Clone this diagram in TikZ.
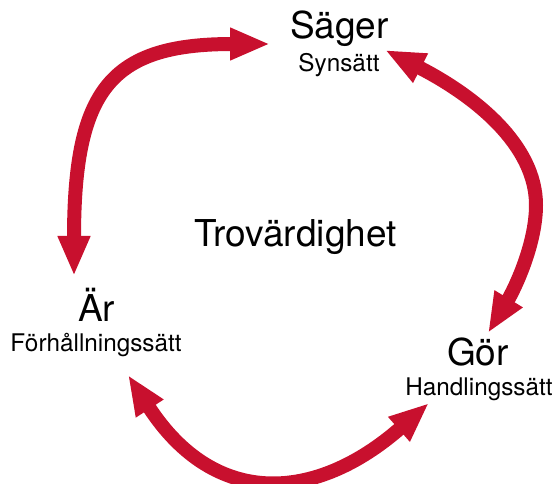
\documentclass[tikz,border=0pt]{standalone}
\usepackage{fontspec}
\setmainfont{TeX Gyre Heros}
\usetikzlibrary{arrows.meta}
\definecolor{cyclered}{RGB}{200,16,46}
\tikzset{
  bigtext/.style={inner sep=0pt, anchor=base, font=\fontsize{37}{41}\selectfont},
  smalltext/.style={inner sep=0pt, anchor=base, font=\fontsize{24.3}{28}\selectfont},
  cyclearrow/.style={draw=cyclered, line width=14pt,
    {Triangle[length=40pt,width=30pt]}-{Triangle[length=40pt,width=30pt]}}
}
\begin{document}
\begin{tikzpicture}[x=1pt,y=-1pt]
\useasboundingbox (0,0) rectangle (555,484);
% texts
\node[bigtext] (sager) at (339.5,39) {Säger};
\node[smalltext] (synsatt) at (339,72) {Synsätt};
\node[bigtext] (trov) at (295.5,247) {Trovärdighet};
\node[bigtext] (ar) at (96.5,322) {Är};
\node[smalltext] (forh) at (96,352) {Förhållningssätt};
\node[bigtext] (gor) at (478,365) {Gör};
\node[smalltext] (handl) at (479,395) {Handlingssätt};
% arrow end points
\coordinate (a1s) at (74,276);
\coordinate (a1e) at (270,44);
\coordinate (a2s) at (385,50);
\coordinate (a2m) at (536,205);
\coordinate (a2e) at (488,333);
\coordinate (a3s) at (128,375);
\coordinate (a3e) at (429,403);
% arrows
\path[cyclearrow] (a1s) .. controls (74,90) and (110,44) .. (a1e);
\path[cyclearrow] (a2s) .. controls (475,96) and (536,145) .. (a2m)
   .. controls (536,245) and (514,290) .. (a2e);
\path[cyclearrow] (a3s) .. controls (215,509) and (316,502) .. (a3e);
\end{tikzpicture}
\end{document}
